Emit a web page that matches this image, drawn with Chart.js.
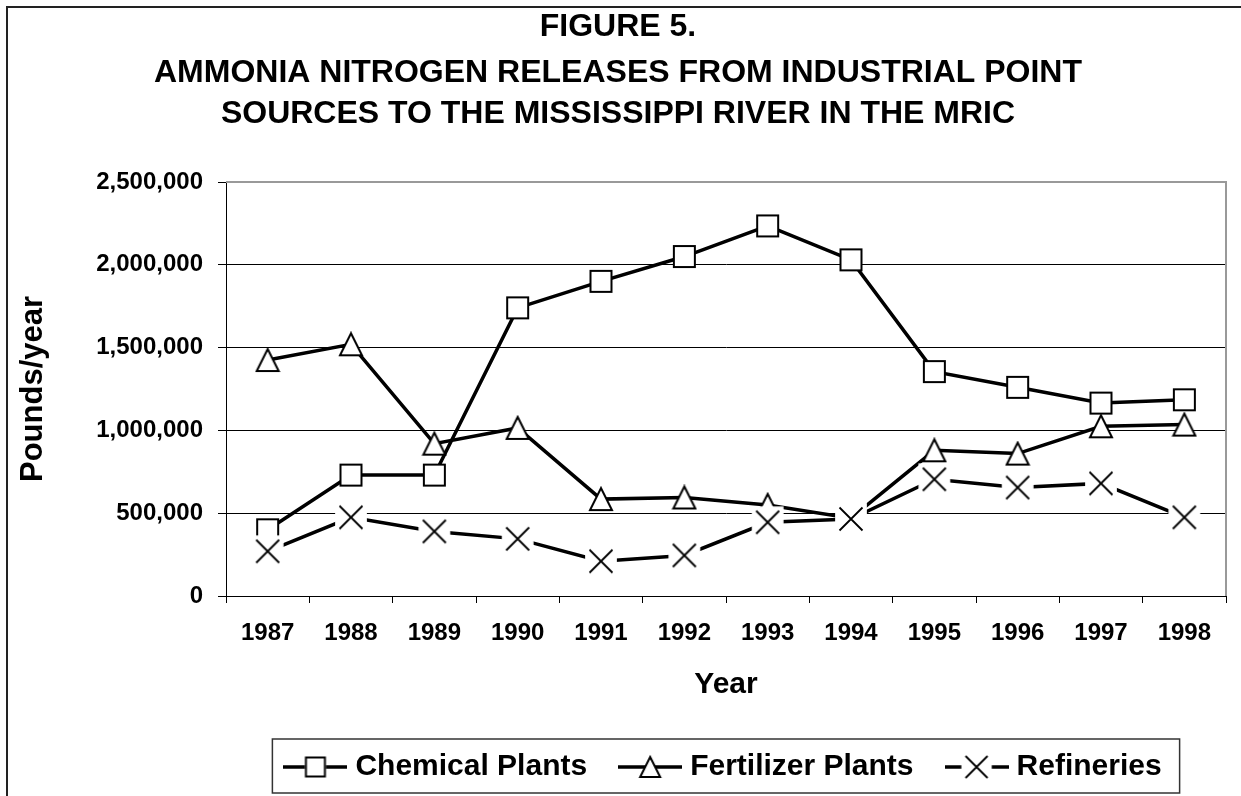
<!DOCTYPE html>
<html>
<head>
<meta charset="utf-8">
<title>Figure 5 - Ammonia nitrogen releases</title>
<script src="https://cdn.jsdelivr.net/npm/chart.js@4.4.1/dist/chart.umd.min.js"></script>
<style>
  html, body { margin: 0; padding: 0; background: #fff; }
  #wrap { width: 1241px; height: 796px; }
</style>
</head>
<body>
<div id="wrap"><canvas id="chart" width="1241" height="796"></canvas></div>
<script>
/* data (pounds/year) */
const years = ['1987','1988','1989','1990','1991','1992','1993','1994','1995','1996','1997','1998'];
const chemicalPlants   = [400000, 730000, 730000, 1740000, 1900000, 2050000, 2235000, 2030000, 1355000, 1260000, 1165000, 1185000];
const fertilizerPlants = [1425000, 1520000, 920000, 1015000, 585000, 595000, 550000, 470000, 880000, 860000, 1025000, 1035000];
const refineries       = [270000, 475000, 390000, 345000, 210000, 245000, 445000, 465000, 705000, 655000, 680000, 475000];
const seriesNames = ['Chemical Plants', 'Fertilizer Plants', 'Refineries'];
const yMax = 2500000;
const yStep = 500000;

const titleLines = [
  'AMMONIA NITROGEN RELEASES FROM INDUSTRIAL POINT',
  'SOURCES TO THE MISSISSIPPI RIVER IN THE MRIC'
];

Chart.defaults.font.family = "'Liberation Sans', Arial, sans-serif";
Chart.defaults.color = '#000';

/* ---- marker drawing (white filled, like the Excel markers) ---- */
function drawShape(ctx, kind, cx, cy, s) {
  ctx.fillStyle = '#fff';
  ctx.strokeStyle = '#000';
  if (kind === 'square') {
    ctx.fillRect(cx - s / 2, cy - s / 2, s, s);
    ctx.lineWidth = 2;
    ctx.strokeRect(cx - s / 2 + 1, cy - s / 2 + 1, s - 2, s - 2);
  } else if (kind === 'triangle') {
    ctx.beginPath();
    ctx.moveTo(cx, cy - s / 2 + 1);
    ctx.lineTo(cx + s / 2 - 1, cy + s / 2 - 1);
    ctx.lineTo(cx - s / 2 + 1, cy + s / 2 - 1);
    ctx.closePath();
    ctx.fill();
    ctx.lineWidth = 2;
    ctx.stroke();
  } else {
    // x marker sits on a white square that hides what is under it
    const b = s * 1.38;
    ctx.fillRect(cx - b / 2, cy - b / 2, b, b);
    ctx.lineWidth = 1.8;
    ctx.beginPath();
    ctx.moveTo(cx - s / 2, cy - s / 2); ctx.lineTo(cx + s / 2, cy + s / 2);
    ctx.moveTo(cx + s / 2, cy - s / 2); ctx.lineTo(cx - s / 2, cy + s / 2);
    ctx.stroke();
  }
}

function makeMarker(kind, s) {
  const c = document.createElement('canvas');
  const size = kind === 'cross' ? Math.ceil(s * 1.38) + 2 : s + 2;
  c.width = size; c.height = size;
  drawShape(c.getContext('2d'), kind, size / 2, size / 2, s);
  return c;
}

function makeLegendSymbol(kind, s) {
  const c = document.createElement('canvas');
  c.width = 64; c.height = 34;
  const ctx = c.getContext('2d');
  ctx.strokeStyle = '#000';
  ctx.lineWidth = 3.5;
  ctx.beginPath();
  ctx.moveTo(0, 17); ctx.lineTo(64, 17);
  ctx.stroke();
  drawShape(ctx, kind, 32, 17, s);
  return c;
}

const markers = [makeMarker('square', 23), makeMarker('triangle', 24), makeMarker('cross', 23)];
const legendSymbols = [makeLegendSymbol('square', 21), makeLegendSymbol('triangle', 22), makeLegendSymbol('cross', 22)];

/* frame round the page, grey plot border, box round the legend */
const frames = {
  id: 'frames',
  beforeDraw(chart) {
    const ctx = chart.ctx;
    ctx.save();
    ctx.strokeStyle = '#222';
    ctx.lineWidth = 2;
    ctx.strokeRect(7, 7, 1400, 1000);
    ctx.restore();
  },
  beforeDatasetsDraw(chart) {
    const {ctx, chartArea: a} = chart;
    ctx.save();
    ctx.strokeStyle = '#999';
    ctx.lineWidth = 2;
    ctx.beginPath();
    ctx.moveTo(a.left, a.top);
    ctx.lineTo(a.right, a.top);
    ctx.lineTo(a.right, a.bottom);
    ctx.stroke();
    ctx.restore();
  },
  afterDraw(chart) {
    const hb = chart.legend && chart.legend.legendHitBoxes;
    if (!hb || !hb.length) return;
    const first = hb[0], last = hb[hb.length - 1];
    const cy = first.top + first.height / 2;
    const ctx = chart.ctx;
    ctx.save();
    ctx.strokeStyle = '#333';
    ctx.lineWidth = 1.5;
    ctx.strokeRect(first.left - 18, cy - 28, (last.left + last.width + 18) - (first.left - 18), 54);
    ctx.restore();
  }
};

const seriesData = [chemicalPlants, fertilizerPlants, refineries];

new Chart(document.getElementById('chart'), {
  type: 'line',
  data: {
    labels: years,
    datasets: seriesData.map((vals, i) => ({
      label: seriesNames[i],
      data: vals,
      borderColor: '#000',
      borderWidth: 3.5,
      tension: 0,
      pointStyle: markers[i],
      pointRadius: 10,
      order: 3 - i,   // refineries on top, as in the original
    })),
  },
  options: {
    responsive: false,
    animation: false,
    events: [],
    layout: { padding: { left: 10, right: 15, top: 0, bottom: 4 } },
    scales: {
      x: {
        offset: true,
        grid: { offset: true, drawOnChartArea: false, tickLength: 7, color: '#000' },
        border: { color: '#000', width: 1 },
        ticks: { font: { size: 24, weight: 'bold' }, color: '#000', padding: 16, maxRotation: 0, autoSkip: false },
        title: { display: true, text: 'Year', font: { size: 30, weight: 'bold' }, color: '#000', padding: { top: 0, bottom: 11 } },
        afterFit: s => { s.height = 118; },
      },
      y: {
        min: 0,
        max: yMax,
        grid: { color: '#000', lineWidth: 1, tickLength: 8 },
        border: { color: '#000', width: 1 },
        ticks: {
          stepSize: yStep,
          font: { size: 24, weight: 'bold' },
          color: '#000',
          padding: 15,
          callback: v => v.toLocaleString('en-US'),
        },
        title: { display: true, text: 'Pounds/year', font: { size: 31, weight: 'bold' }, color: '#000', padding: { top: 5, bottom: 0 } },
        afterFit: s => { s.width = 216; },
      },
    },
    plugins: {
      tooltip: { enabled: false },
      title: {
        display: true,
        text: 'FIGURE 5.',
        color: '#000',
        font: { size: 32, weight: 'bold', lineHeight: 36 / 32 },
        padding: { top: 9, bottom: 8 },
      },
      subtitle: {
        display: true,
        text: titleLines,
        color: '#000',
        font: { size: 32, weight: 'bold', lineHeight: 41 / 32 },
        padding: { top: 0, bottom: 47 },
      },
      legend: {
        position: 'bottom',
        fullSize: false,
        labels: {
          usePointStyle: true,
          pointStyleWidth: 50,
          padding: 38,
          color: '#000',
          font: { size: 30, weight: 'bold' },
          sort: (a, b) => a.datasetIndex - b.datasetIndex,
          generateLabels(chart) {
            const items = Chart.defaults.plugins.legend.labels.generateLabels(chart);
            items.forEach(it => { it.pointStyle = legendSymbols[it.datasetIndex]; });
            return items;
          },
        },
      },
    },
  },
  plugins: [frames],
});
</script>
</body>
</html>
